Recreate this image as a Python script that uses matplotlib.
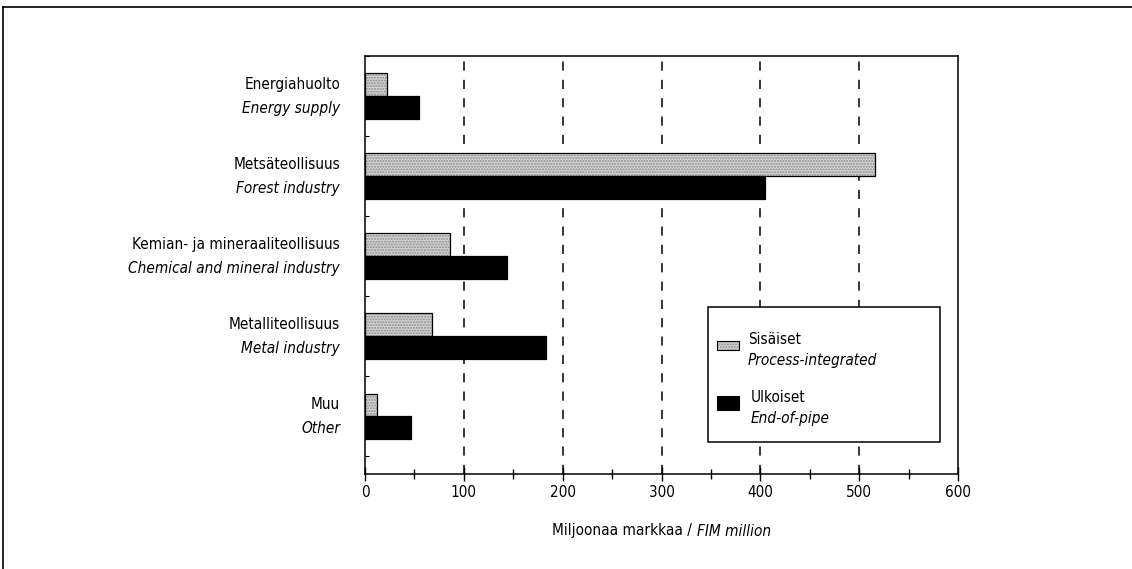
import matplotlib
matplotlib.use("Agg")
import matplotlib.pyplot as plt
from matplotlib import font_manager as fm
from matplotlib.patches import Rectangle
from matplotlib.lines import Line2D
import numpy as np

# ---- data ----
categories_fi = ["Energiahuolto", "Metsäteollisuus", "Kemian- ja mineraaliteollisuus",
                 "Metalliteollisuus", "Muu"]
categories_en = ["Energy supply", "Forest industry", "Chemical and mineral industry",
                 "Metal industry", "Other"]
sisaiset = [22, 516, 86, 68, 12]      # Process-integrated
ulkoiset = [55, 405, 144, 183, 47]    # End-of-pipe
xticks = [0, 100, 200, 300, 400, 500, 600]
series_fi = ["Sisäiset", "Ulkoiset"]
series_en = ["Process-integrated", "End-of-pipe"]

names = {f.name for f in fm.fontManager.ttflist}
if "Liberation Sans Narrow" in names:
    FAM = "Liberation Sans Narrow"
    STRETCH = "normal"
else:
    FAM = "DejaVu Sans"
    STRETCH = "condensed"
plt.rcParams["font.family"] = [FAM, "DejaVu Sans"]
FS = 11

fig = plt.figure(figsize=(11.32, 5.69), dpi=100)
W, H = 1132, 569
ax = fig.add_axes([365 / W, 1 - 474 / H, (958 - 365) / W, (474 - 56) / H])

y = np.arange(len(categories_fi))
h = 0.285
# grey stippled bars
ax.barh(y - h / 2, sisaiset, height=h, color="#d4d4d4", edgecolor="#8a8a8a",
        hatch="......", linewidth=0, zorder=3)
ax.barh(y - h / 2, sisaiset, height=h, fill=False, edgecolor="black", linewidth=0.9, zorder=4)
ax.barh(y + h / 2, ulkoiset, height=h, color="black", edgecolor="black", linewidth=0.9, zorder=3)

ax.set_xlim(0, 600)
ax.set_ylim(4.72, -0.5)
ax.set_xticks(xticks)
ax.set_xticklabels([str(t) for t in xticks], fontsize=FS, fontstretch=STRETCH)
ax.set_xticks(np.arange(50, 600, 100), minor=True)
ax.tick_params(axis="x", which="major", direction="inout", length=10, width=1, pad=3)
ax.tick_params(axis="x", which="minor", direction="inout", length=7, width=1)
ax.set_yticks([])
ax.set_yticks(np.arange(-0.5, 5, 1.0), minor=True)
ax.tick_params(axis="y", which="minor", direction="in", length=3, width=0.8)

for t in xticks[1:-1]:
    ax.axvline(t, color="black", lw=1.1, ls=(0, (6, 6)), zorder=1)

for s in ax.spines.values():
    s.set_linewidth(1.1)

trans = ax.get_yaxis_transform()
for i in range(len(categories_fi)):
    ax.text(-0.042, i - 0.15, categories_fi[i], transform=trans, ha="right", va="center",
            fontsize=FS, fontstretch=STRETCH)
    ax.text(-0.042, i + 0.15, categories_en[i], transform=trans, ha="right", va="center",
            fontsize=FS, style="italic", fontstretch=STRETCH)

# x label (mixed normal / italic)
fig.text(696 / W, 1 - 531 / H, "Miljoonaa markkaa / ", ha="right", va="center",
         fontsize=FS, fontstretch=STRETCH)
fig.text(697 / W, 1 - 531 / H, "FIM million", ha="left", va="center",
         fontsize=FS, style="italic", fontstretch=STRETCH)

# legend (manual box), positions in axes fractions
def fy(py):
    return 1 - (py - 56) / (474 - 56)

def fx(px):
    return (px - 365) / (958 - 365)

ta = ax.transAxes
ax.add_patch(Rectangle((fx(708), fy(442)), fx(940) - fx(708), fy(307) - fy(442), transform=ta,
                       facecolor="white", edgecolor="black", lw=1.1, zorder=6))
ax.add_patch(Rectangle((fx(717), fy(350)), fx(739) - fx(717), fy(341) - fy(350), transform=ta,
                       facecolor="#d4d4d4", edgecolor="#8a8a8a", hatch="......", lw=0, zorder=7))
ax.add_patch(Rectangle((fx(717), fy(350)), fx(739) - fx(717), fy(341) - fy(350), transform=ta,
                       fill=False, edgecolor="black", lw=0.8, zorder=8))
ax.add_patch(Rectangle((fx(717), fy(410)), fx(739) - fx(717), fy(396) - fy(410), transform=ta,
                       facecolor="black", edgecolor="black", lw=0.8, zorder=7))
ax.text(fx(748), fy(340), series_fi[0], transform=ta, ha="left", va="center", fontsize=FS,
        fontstretch=STRETCH, zorder=9)
ax.text(fx(748), fy(361), series_en[0], transform=ta, ha="left", va="center", fontsize=FS,
        style="italic", fontstretch=STRETCH, zorder=9)
ax.text(fx(751), fy(397), series_fi[1], transform=ta, ha="left", va="center", fontsize=FS,
        fontstretch=STRETCH, zorder=9)
ax.text(fx(751), fy(419), series_en[1], transform=ta, ha="left", va="center", fontsize=FS,
        style="italic", fontstretch=STRETCH, zorder=9)

# outer frame (top and left edges)
fig.add_artist(Line2D([3 / W, 1], [1 - 7 / H, 1 - 7 / H], transform=fig.transFigure,
                      color="black", lw=1.2))
fig.add_artist(Line2D([3 / W, 3 / W], [0, 1 - 7 / H], transform=fig.transFigure,
                      color="black", lw=1.2))

fig.savefig("out.png", dpi=100)
